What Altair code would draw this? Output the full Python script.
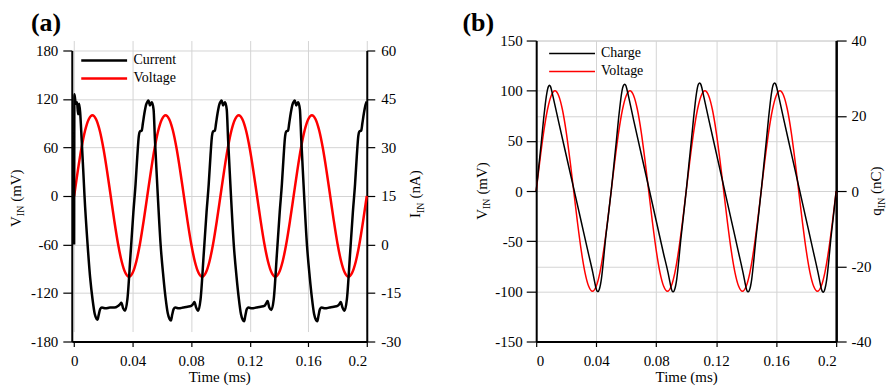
import altair as alt
import pandas as pd

FONT = "Liberation Serif"

# ---------------- data ----------------
t_volt = [0.0000, 0.0025, 0.0050, 0.0075, 0.0100, 0.0125, 0.0150, 0.0175, 0.0200, 0.0225,
          0.0250, 0.0275, 0.0300, 0.0325, 0.0350, 0.0375, 0.0400, 0.0425, 0.0450, 0.0475,
          0.0500, 0.0525, 0.0550, 0.0575, 0.0600, 0.0625, 0.0650, 0.0675, 0.0700, 0.0725,
          0.0750, 0.0775, 0.0800, 0.0825, 0.0850, 0.0875, 0.0900, 0.0925, 0.0950, 0.0975,
          0.1000, 0.1025, 0.1050, 0.1075, 0.1100, 0.1125, 0.1150, 0.1175, 0.1200, 0.1225,
          0.1250, 0.1275, 0.1300, 0.1325, 0.1350, 0.1375, 0.1400, 0.1425, 0.1450, 0.1475,
          0.1500, 0.1525, 0.1550, 0.1575, 0.1600, 0.1625, 0.1650, 0.1675, 0.1700, 0.1725,
          0.1750, 0.1775, 0.1800, 0.1825, 0.1850, 0.1875, 0.1900, 0.1925, 0.1950, 0.1975,
          0.2000]
voltage = [0, 31, 59, 81, 95, 100, 95, 81, 59, 31, 0, -31, -59, -81, -95, -100, -95, -81, -59, -31,
           0, 31, 59, 81, 95, 100, 95, 81, 59, 31, 0, -31, -59, -81, -95, -100, -95, -81, -59, -31,
           0, 31, 59, 81, 95, 100, 95, 81, 59, 31, 0, -31, -59, -81, -95, -100, -95, -81, -59, -31,
           0, 31, 59, 81, 95, 100, 95, 81, 59, 31, 0, -31, -59, -81, -95, -100, -95, -81, -59, -31,
           0]

t_current = [0.0000, 0.0002, 0.0008, 0.0014, 0.0020, 0.0027, 0.0034, 0.0041, 0.0052, 0.0062,
             0.0071, 0.0092, 0.0110, 0.0126, 0.0141, 0.0153, 0.0160, 0.0168, 0.0178, 0.0190,
             0.0215, 0.0245, 0.0275, 0.0300, 0.0313, 0.0323, 0.0335, 0.0348,
             0.0364, 0.0386, 0.0405, 0.0420, 0.0432, 0.0442, 0.0450, 0.0462, 0.0470, 0.0480,
             0.0492, 0.0502, 0.0508, 0.0518, 0.0531, 0.0543, 0.0552, 0.0562, 0.0572, 0.0591,
             0.0610, 0.0625, 0.0640, 0.0652, 0.0662, 0.0670, 0.0680, 0.0692, 0.0715, 0.0745,
             0.0775, 0.0800, 0.0812, 0.0822, 0.0834, 0.0848,
             0.0864, 0.0886, 0.0905, 0.0920, 0.0932, 0.0942, 0.0950, 0.0962, 0.0970, 0.0980,
             0.0992, 0.1002, 0.1008, 0.1018, 0.1031, 0.1043, 0.1052, 0.1062, 0.1072, 0.1091,
             0.1110, 0.1125, 0.1140, 0.1152, 0.1162, 0.1170, 0.1180, 0.1192, 0.1215, 0.1245,
             0.1275, 0.1300, 0.1312, 0.1322, 0.1334, 0.1348,
             0.1364, 0.1386, 0.1405, 0.1420, 0.1432, 0.1442, 0.1450, 0.1462, 0.1470, 0.1480,
             0.1492, 0.1502, 0.1508, 0.1518, 0.1531, 0.1543, 0.1552, 0.1562, 0.1572, 0.1591,
             0.1610, 0.1625, 0.1640, 0.1652, 0.1662, 0.1670, 0.1680, 0.1692, 0.1715, 0.1745,
             0.1775, 0.1800, 0.1812, 0.1822, 0.1834, 0.1848,
             0.1864, 0.1886, 0.1905, 0.1920, 0.1932, 0.1942, 0.1950, 0.1962, 0.1970, 0.1980,
             0.1992, 0.2000]
current = [0.0, 46.5, 44.5, 43.5, 44.0, 40.25, 43.5, 41.0, 32.0, 23.25,
           15.0, 0.0, -10.5, -17.0, -21.5, -23.0, -23.25, -21.75, -20.0, -19.5,
           -19.75, -19.5, -19.5, -19.0, -18.5, -18.0, -19.75, -20.5,
           -17.0, -2.75, 10.0, 18.75, 27.5, 33.5, 35.0, 35.25, 37.5, 40.5,
           43.25, 44.25, 44.5, 43.0, 44.0, 41.75, 32.75, 23.75, 15.0, 0.0,
           -10.0, -16.5, -21.25, -23.0, -23.5, -21.75, -20.0, -19.5, -19.75, -19.5,
           -19.25, -19.0, -18.5, -17.75, -19.5, -20.5,
           -17.0, -2.75, 10.0, 18.75, 27.5, 33.5, 35.0, 35.25, 37.5, 40.5,
           43.25, 44.25, 44.5, 43.0, 44.0, 41.75, 32.75, 23.75, 15.0, 0.0,
           -10.0, -16.5, -21.5, -23.25, -23.75, -22.0, -20.0, -19.5, -19.75, -19.5,
           -19.25, -19.0, -18.25, -17.5, -19.5, -20.25,
           -17.0, -2.75, 10.0, 18.75, 27.5, 33.5, 35.0, 35.25, 37.5, 40.5,
           43.25, 44.25, 44.5, 43.0, 44.0, 41.75, 32.75, 23.75, 15.0, 0.0,
           -10.0, -16.5, -21.5, -23.25, -23.75, -22.0, -20.0, -19.5, -19.75, -19.5,
           -19.25, -19.0, -18.5, -17.75, -19.5, -20.5,
           -17.0, -2.75, 10.0, 18.75, 27.5, 33.5, 35.0, 35.25, 37.5, 40.5,
           43.25, 44.25]

t_charge = [0.0000, 0.0019, 0.0035, 0.0050, 0.0060, 0.0068, 0.0075, 0.0082, 0.0088, 0.0095,
            0.0102, 0.0110, 0.0150, 0.0200, 0.0250, 0.0300, 0.0350, 0.0378, 0.0387, 0.0394,
            0.0400, 0.0406, 0.0413, 0.0421, 0.0435, 0.0448, 0.0460, 0.0480,
            0.0500, 0.0519, 0.0535, 0.0550, 0.0560, 0.0568, 0.0575, 0.0582, 0.0590, 0.0597,
            0.0604, 0.0612, 0.0650, 0.0700, 0.0750, 0.0800, 0.0850, 0.0880, 0.0889, 0.0896,
            0.0902, 0.0908, 0.0915, 0.0923, 0.0937, 0.0950, 0.0962, 0.0981,
            0.1000, 0.1019, 0.1035, 0.1050, 0.1060, 0.1068, 0.1075, 0.1082, 0.1090, 0.1097,
            0.1104, 0.1112, 0.1150, 0.1200, 0.1250, 0.1300, 0.1350, 0.1380, 0.1389, 0.1396,
            0.1402, 0.1408, 0.1415, 0.1423, 0.1437, 0.1450, 0.1462, 0.1481,
            0.1500, 0.1519, 0.1535, 0.1550, 0.1560, 0.1568, 0.1575, 0.1582, 0.1590, 0.1597,
            0.1604, 0.1612, 0.1650, 0.1700, 0.1750, 0.1800, 0.1850, 0.1880, 0.1889, 0.1896,
            0.1902, 0.1908, 0.1915, 0.1923, 0.1937, 0.1950, 0.1962, 0.1981, 0.2000]
charge = [0.0, 7.2, 13.3, 19.4, 22.9, 25.3, 26.9, 27.8, 28.1, 27.8,
          26.9, 25.5, 18.3, 9.5, 0.7, -8.1, -16.9, -21.8, -23.6, -25.0,
          -26.0, -26.6, -26.7, -26.1, -23.3, -18.6, -13.6, -6.8,
          0.0, 7.3, 13.5, 19.6, 23.1, 25.6, 27.2, 28.1, 28.4, 28.1,
          27.2, 25.8, 18.8, 9.9, 1.0, -7.9, -16.8, -21.9, -23.7, -25.1,
          -26.1, -26.7, -26.8, -26.2, -23.4, -18.7, -13.7, -6.9,
          0.0, 7.4, 13.6, 19.7, 23.3, 25.8, 27.5, 28.4, 28.7, 28.4,
          27.5, 26.1, 19.1, 10.2, 1.3, -7.6, -16.5, -21.9, -23.7, -25.1,
          -26.1, -26.7, -26.8, -26.2, -23.4, -18.7, -13.7, -6.9,
          0.0, 7.4, 13.6, 19.7, 23.3, 25.8, 27.5, 28.4, 28.7, 28.4,
          27.5, 26.1, 19.1, 10.2, 1.3, -7.6, -16.5, -21.9, -23.7, -25.1,
          -26.1, -26.7, -26.9, -26.3, -23.5, -18.8, -13.7, -6.9, 0.0]

time_ticks = [0, 0.04, 0.08, 0.12, 0.16, 0.2]
va_ticks = [-180, -120, -60, 0, 60, 120, 180]
ia_ticks = [-30, -15, 0, 15, 30, 45, 60]
vb_ticks = [-150, -100, -50, 0, 50, 100, 150]
qb_ticks = [-40, -20, 0, 20, 40]

df_volt_a = pd.DataFrame({"t": t_volt, "v": voltage, "s": "Voltage"})
df_cur = pd.DataFrame({"t": t_current, "i": current, "s": "Current"})
df_volt_b = pd.DataFrame({"t": t_volt, "v": voltage, "s": "Voltage"})
df_q = pd.DataFrame({"t": t_charge, "q": charge, "s": "Charge"})

# ---------------- layout constants ----------------
WA, WB, H = 296, 301, 302
A_TOP = 10
GRID = "#d4d4d4"
LBL = "'' + datum.value"


def yaxis(vals, orient, grid, tick, pad, dw):
    return alt.Axis(values=vals, orient=orient, grid=grid, gridColor=GRID, gridWidth=1,
                    title=None, labelExpr=LBL, labelFont=FONT, labelFontSize=15,
                    labelColor="black", tickColor="black", tickSize=tick, tickWidth=1.2,
                    labelPadding=pad, domainColor="black", domainWidth=dw)


def xaxis():
    return alt.Axis(values=time_ticks, grid=True, gridColor=GRID, gridWidth=1,
                    title="Time (ms)", titleFont=FONT, titleFontSize=15,
                    titleFontWeight="normal", titleColor="black", titlePadding=1,
                    labelExpr=LBL, labelFont=FONT, labelFontSize=15, labelColor="black",
                    tickColor="black", tickSize=5, tickWidth=1.2, labelPadding=7,
                    domainColor="black", domainWidth=2)


def txt(s, x, y, size, angle=270, weight="normal"):
    return alt.Chart(pd.DataFrame({"s": [s]})).mark_text(
        text=s, font=FONT, fontSize=size, fontWeight=weight, angle=angle,
        align="left", baseline="top", color="black"
    ).encode(x=alt.value(x), y=alt.value(y))


def legend(lx, ly, sw):
    return alt.Legend(orient="none", legendX=lx, legendY=ly, title=None,
                      symbolType="stroke", symbolSize=2116, symbolStrokeWidth=sw,
                      labelFont=FONT, labelFontSize=14, labelColor="black",
                      labelOffset=5, clipHeight=18, padding=0, rowPadding=0)


# ---------------- panel (a) ----------------
xa = alt.X("t:Q", scale=alt.Scale(domain=[-0.0016, 0.2], nice=False, zero=False), axis=xaxis())
col_a = alt.Color("s:N", scale=alt.Scale(domain=["Current", "Voltage"], range=["#000000", "#ff0000"]),
                  legend=legend(8, 11, 2.5))

volt_a = alt.Chart(df_volt_a).mark_line(strokeWidth=2.5, interpolate="monotone").encode(
    x=xa,
    y=alt.Y("v:Q", scale=alt.Scale(domain=[-180, 180], nice=False, range=[H, A_TOP]),
            axis=yaxis(va_ticks, "left", True, 9, 5, 2)),
    color=col_a,
)
cur_a = alt.Chart(df_cur).mark_line(strokeWidth=2.5, interpolate="monotone").encode(
    x=xa,
    y=alt.Y("i:Q", scale=alt.Scale(domain=[-30, 60], nice=False, range=[H, A_TOP]),
            axis=yaxis(ia_ticks, "right", False, 8, 6, 2)),
    color=col_a,
)

panel_a = alt.layer(
    volt_a, cur_a,
    txt("(a)", -41, -31, 26, angle=0, weight="bold"),
    txt("V", -63, 187, 15), txt("IN", -56, 176.2, 10), txt("(mV)", -63, 161.8, 15),
    txt("I", 337.5, 178, 15), txt("IN", 345.5, 173, 10), txt("(nA)", 337.5, 158.6, 15),
).resolve_scale(y="independent").properties(width=WA, height=H)

# ---------------- panel (b) ----------------
xb = alt.X("t:Q", scale=alt.Scale(domain=[0, 0.2], nice=False, zero=False), axis=xaxis())
col_b = alt.Color("s:N", scale=alt.Scale(domain=["Charge", "Voltage"], range=["#000000", "#ff0000"]),
                  legend=legend(12, 4, 1.5))

volt_b = alt.Chart(df_volt_b).mark_line(strokeWidth=1.5, interpolate="monotone").encode(
    x=xb,
    y=alt.Y("v:Q", scale=alt.Scale(domain=[-150, 150], nice=False),
            axis=yaxis(vb_ticks, "left", True, 10, 4, 2)),
    color=col_b,
)
q_b = alt.Chart(df_q).mark_line(strokeWidth=1.5, interpolate="monotone").encode(
    x=xb,
    y=alt.Y("q:Q", scale=alt.Scale(domain=[-40, 40], nice=False),
            axis=yaxis(qb_ticks, "right", True, 10, 5, 2.5)),
    color=col_b,
)

panel_b = alt.layer(
    volt_b, q_b,
    txt("(b)", -74, -31, 26, angle=0, weight="bold"),
    txt("V", -61, 179.8, 15), txt("IN", -54, 169, 10), txt("(mV)", -61, 154.6, 15),
    txt("q", 334, 175.7, 15), txt("IN", 342, 168.2, 10), txt("(nC)", 334, 153.9, 15),
).resolve_scale(y="independent").properties(width=WB, height=H)

chart = alt.hconcat(panel_a, panel_b, spacing=35).resolve_scale(
    color="independent", x="independent"
).properties(padding=0).configure_view(stroke="transparent")

chart.save("out.html", embed_options={"renderer": "svg", "actions": False})
